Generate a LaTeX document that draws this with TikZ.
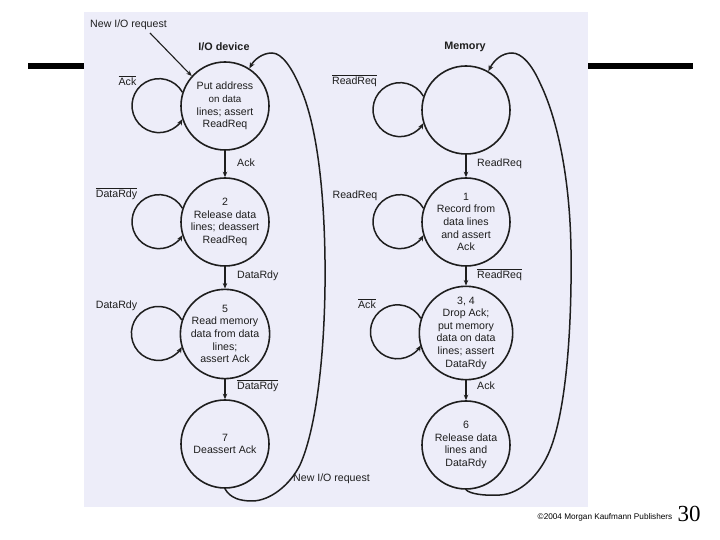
\documentclass[tikz,border=0pt]{standalone}
\usepackage{fontspec}
\setmainfont{Liberation Sans}
\newfontfamily\serifnum{Liberation Serif}
\usetikzlibrary{arrows.meta}
\definecolor{scanbg}{RGB}{237,237,249}
\definecolor{ink}{RGB}{30,30,30}
\begin{document}
\begin{tikzpicture}[x=1pt,y=1pt,
  state/.style={circle,draw=ink,line width=1.6pt,minimum size=88pt,inner sep=0pt,align=center,font=\fontsize{10.6}{12.6}\selectfont,text=ink},
  lbl/.style={font=\fontsize{10.6}{12}\selectfont,text=ink,inner sep=0pt},
  ttl/.style={font=\fontsize{10.8}{12}\selectfont\bfseries,text=ink,inner sep=0pt},
  tr/.style={draw=ink,line width=1.1pt,-{Stealth[length=5.5pt,width=4.5pt]}},
  loopa/.style={draw=ink,line width=1.5pt,-{Stealth[length=6pt,width=5pt]}},
  ret/.style={draw=ink,line width=1.5pt,-{Stealth[length=6pt,width=5pt]}}]
\useasboundingbox (0,0) rectangle (720,540);
\fill[white] (0,0) rectangle (720,540);
\fill[black] (28,471) rectangle (693,477);
\fill[scanbg] (84,33) rectangle (588,528);

% titles
\node[ttl] (tio) at (224,493) {I/O device};
\node[ttl] (tmem) at (465,493) {Memory};
\node[lbl,anchor=base] (newreq) at (128.5,512.3) {New I/O request};
\coordinate (nrs) at (150,507);

% I/O device states
\node[state] (io0) at (225,434) {Put address\\{\fontsize{9.8}{12.6}\selectfont on data}\\lines; assert\\ReadReq};
\node[state] (io2) at (225,318) {2\\Release data\\lines; deassert\\ReadReq};
\node[state] (io5) at (225,206) {5\\Read memory\\data from data\\lines;\\assert Ack};
\node[state] (io7) at (225,96) {7\\Deassert Ack};

% Memory states
\node[state] (m0) at (466,430) {};
\node[state] (m1) at (466,318) {1\\Record from\\data lines\\and assert\\Ack};
\node[state] (m34) at (466,207) {3, 4\\Drop Ack;\\put memory\\data on data\\lines; assert\\DataRdy};
\node[state] (m6) at (466,95) {6\\Release data\\lines and\\DataRdy};

% transitions
\draw[tr] (nrs) -- (io0.138);
\draw[tr] (io0) -- (io2);
\draw[tr] (io2) -- (io5);
\draw[tr] (io5) -- (io7);
\draw[tr] (m0) -- (m1);
\draw[tr] (m1) -- (m34);
\draw[tr] (m34) -- (m6);

\node[lbl,anchor=base west] (la1) at (237,373.3) {Ack};
\node[lbl,anchor=base west] (la2) at (237,261.3) {DataRdy};
\node[lbl,anchor=base west] (la3) at (237,150.3) {$\overline{\mbox{DataRdy}}$};
\node[lbl,anchor=base west] (lb1) at (477,373.3) {ReadReq};
\node[lbl,anchor=base west] (lb2) at (477,261.3) {$\overline{\mbox{ReadReq}}$};
\node[lbl,anchor=base west] (lb3) at (477,150.3) {Ack};

% self loops
\draw[loopa] (io0.162) arc[start angle=30,end angle=330,radius=27];
\draw[loopa] (io2.162) arc[start angle=30,end angle=330,radius=27];
\draw[loopa] (io5.162) arc[start angle=30,end angle=330,radius=27];
\draw[loopa] (m0.162) arc[start angle=30,end angle=330,radius=27];
\draw[loopa] (m1.162) arc[start angle=30,end angle=330,radius=27];
\draw[loopa] (m34.162) arc[start angle=30,end angle=330,radius=27];

\node[lbl,anchor=base] (sl1) at (127.5,454.3) {$\overline{\mbox{Ack}}$};
\node[lbl,anchor=base] (sl2) at (116.5,342.3) {$\overline{\mbox{DataRdy}}$};
\node[lbl,anchor=base] (sl3) at (116.5,231.3) {DataRdy};
\node[lbl,anchor=base] (sl4) at (354.5,455.3) {$\overline{\mbox{ReadReq}}$};
\node[lbl,anchor=base] (sl5) at (355,341.3) {ReadReq};
\node[lbl,anchor=base] (sl6) at (367,231.3) {$\overline{\mbox{Ack}}$};

% return loops
\draw[ret] (io7.south) .. controls (230,42) and (240,39) .. (252,39)
  .. controls (270,39) and (290,55) .. (300,75)
  .. controls (318,115) and (326,200) .. (325,280)
  .. controls (324,360) and (315,420) .. (300,453)
  .. controls (292,472) and (282,487) .. (272,487)
  .. controls (262,487) and (254,480) .. (io0.57);
\draw[ret] (m6.south) .. controls (470,46) and (485,44) .. (500,45)
  .. controls (520,46) and (540,65) .. (550,90)
  .. controls (566,130) and (572,210) .. (571,290)
  .. controls (570,360) and (558,420) .. (540,457)
  .. controls (532,475) and (522,487) .. (512,487)
  .. controls (502,487) and (494,480) .. (m0.60);
\node[lbl,anchor=base west] (newreq2) at (293,58) {New I/O request};

% footer
\node[inner sep=0pt,anchor=base,font=\fontsize{8.2}{10}\selectfont] (copy) at (605,20) {\textcopyright2004 Morgan Kaufmann Publishers};
\node[inner sep=0pt,anchor=base,font=\serifnum\fontsize{23}{26}\selectfont] (pg) at (689,18) {30};
\end{tikzpicture}
\end{document}
